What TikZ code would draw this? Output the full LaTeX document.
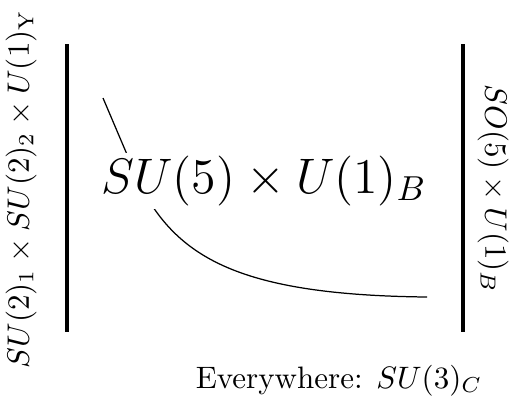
\documentclass[tikz,border=0pt]{standalone}
\usepackage{amsmath,amssymb}
\usepackage{tikz}
\usetikzlibrary{positioning}

\begin{document}
\begin{tikzpicture}[
  x=0.3226pt, y=-0.3226pt,
  wall/.style={draw=black, line width=1pt},
  flow/.style={draw=black, line width=.4pt},
  group/.style={inner sep=0pt},
  bulk/.style={font=\Large, scale=1.118, transform shape, fill=white, inner sep=1pt}
]
\useasboundingbox (0,0) rectangle (518,407);
% curve runs behind the bulk label
\draw[flow] (103,98) -- (140,185) .. controls (178,258) and (240,295) .. (427,297);
\node[bulk] (bulk) at (264,181) {$SU(5)\times U(1)_B$};
\coordinate (lt) at (67,44);
\coordinate (lb) at (67,332);
\coordinate (rt) at (463,44);
\coordinate (rb) at (463,332);
\draw[wall] (lt) -- (lb);
\draw[wall] (rt) -- (rb);
\node[group, rotate=90] (left) at (21,189) {$SU(2)_1\times SU(2)_2\times U(1)_{\mathrm{Y}}$};
\node[group, rotate=-90] (right) at (493,189) {$SO(5)\times U(1)_B$};
\node[group, anchor=base] (everywhere) at (339,388) {Everywhere: $SU(3)_C$};
\end{tikzpicture}
\end{document}
